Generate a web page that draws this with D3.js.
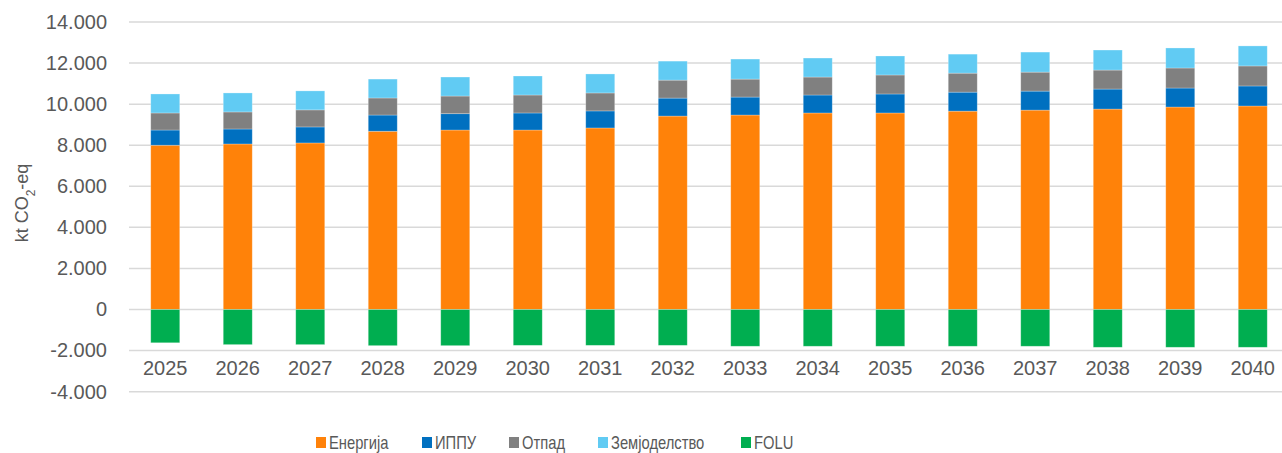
<!DOCTYPE html>
<html>
<head>
<meta charset="utf-8">
<script src="https://cdn.jsdelivr.net/npm/d3@7"></script>
<style>
  html, body { margin: 0; padding: 0; background: #fff; }
  svg { display: block; font-family: "Liberation Sans", Arial, sans-serif; }
</style>
</head>
<body>
<div id="chart"></div>
<script>
// ---------------------------------------------------------------
// Data (kt CO2-eq)
// ---------------------------------------------------------------
const years = ["2025", "2026", "2027", "2028", "2029", "2030", "2031", "2032",
  "2033", "2034", "2035", "2036", "2037", "2038", "2039", "2040"];

const energija = [8000, 8060, 8110, 8680, 8740, 8740, 8840, 9420,
  9470, 9570, 9570, 9660, 9710, 9760, 9860, 9910];
const ippu = [740, 730, 780, 790, 795, 830, 830, 875,
  875, 875, 925, 925, 925, 975, 925, 975];
const otpad = [830, 830, 830, 830, 860, 875, 875, 875,
  875, 875, 925, 925, 925, 925, 975, 975];
const zemjodelstvo = [925, 925, 925, 920, 925, 925, 925, 925,
  975, 925, 925, 925, 975, 975, 975, 975];
const folu = [-1620, -1710, -1710, -1760, -1760, -1745, -1745, -1745,
  -1790, -1790, -1790, -1790, -1790, -1840, -1840, -1840];

const seriesNames = ["Енергија", "ИППУ", "Отпад", "Земјоделство", "FOLU"];
const seriesColors = ["#FF8209", "#0070C0", "#808080", "#61CBF3", "#00AE50"];
const yTicks = [-4000, -2000, 0, 2000, 4000, 6000, 8000, 10000, 12000, 14000];

// ---------------------------------------------------------------
// Layout
// ---------------------------------------------------------------
const W = 1282, H = 453;
const plot = { left: 129, right: 1289, top: 22, zeroY: 309.5 };
const pxPerUnit = (plot.zeroY - plot.top) / 14000;

const rows = years.map((yr, i) => ({
  year: yr,
  "Енергија": energija[i],
  "ИППУ": ippu[i],
  "Отпад": otpad[i],
  "Земјоделство": zemjodelstvo[i],
  "FOLU": folu[i],
}));

const x = d3.scaleBand()
  .domain(years)
  .range([plot.left, plot.right])
  .paddingInner(0.6)
  .paddingOuter(0.3);

const y = d3.scaleLinear()
  .domain([-4000, 14000])
  .range([plot.zeroY + 4000 * pxPerUnit, plot.top]);

const mk = d3.formatLocale({
  decimal: ",", thousands: ".", grouping: [3], currency: ["", ""], minus: "-",
});
const fmt = mk.format(",d");

const svg = d3.select("#chart").append("svg")
  .attr("width", W)
  .attr("height", H);

// Grid lines
svg.append("g")
  .selectAll("line")
  .data(yTicks)
  .join("line")
  .attr("x1", plot.left)
  .attr("x2", plot.right)
  .attr("y1", (d) => y(d))
  .attr("y2", (d) => y(d))
  .attr("stroke", "#D9D9D9")
  .attr("stroke-width", 1.5);

// Stacked bars (positive up, FOLU down)
const stack = d3.stack()
  .keys(seriesNames)
  .offset(d3.stackOffsetDiverging);
const stacked = stack(rows);

svg.append("g")
  .selectAll("g")
  .data(stacked)
  .join("g")
  .attr("fill", (d, i) => seriesColors[i])
  .selectAll("rect")
  .data((d) => d)
  .join("rect")
  .attr("x", (d) => x(d.data.year))
  .attr("width", x.bandwidth())
  .attr("y", (d) => y(Math.max(d[0], d[1])))
  .attr("height", (d) => Math.abs(y(d[0]) - y(d[1])))
  .attr("stroke", "#fff")
  .attr("stroke-opacity", 0.35)
  .attr("stroke-width", 0.75);

// Y axis labels
const yAxis = svg.append("g")
  .attr("transform", "translate(107,0)")
  .call(d3.axisLeft(y).tickValues(yTicks).tickSize(0).tickPadding(0).tickFormat(fmt));
yAxis.select(".domain").remove();
yAxis.selectAll("text")
  .style("font-size", "20px")
  .style("fill", "#595959")
  .style("font-family", "'Liberation Sans', Arial, sans-serif");

// X axis labels
const xAxis = svg.append("g")
  .attr("transform", "translate(0,358)")
  .call(d3.axisBottom(x).tickSize(0).tickPadding(0));
xAxis.select(".domain").remove();
xAxis.selectAll("text")
  .attr("dy", "0.85em")
  .style("font-size", "20px")
  .style("fill", "#595959")
  .style("font-family", "'Liberation Sans', Arial, sans-serif");

// Y axis title
const title = svg.append("text")
  .attr("transform", "translate(28,203) rotate(-90)")
  .attr("text-anchor", "middle")
  .style("font-size", "18px")
  .style("fill", "#595959");
title.append("tspan").text("kt CO");
title.append("tspan").attr("baseline-shift", "sub").style("font-size", "12px").text("2");
title.append("tspan").text("-eq");

// Legend (text squeezed horizontally, the reference uses a narrow face)
const legendX = [316, 422, 509, 598, 741];
const legend = svg.append("g")
  .selectAll("g")
  .data(seriesNames)
  .join("g")
  .attr("transform", (d, i) => `translate(${legendX[i]},0)`);
legend.append("rect")
  .attr("x", 0)
  .attr("y", 437)
  .attr("width", 10)
  .attr("height", 11)
  .attr("fill", (d, i) => seriesColors[i]);
legend.append("text")
  .attr("transform", "translate(13,449) scale(0.82,1)")
  .style("font-size", "18px")
  .style("fill", "#595959")
  .text((d) => d);
</script>
</body>
</html>
